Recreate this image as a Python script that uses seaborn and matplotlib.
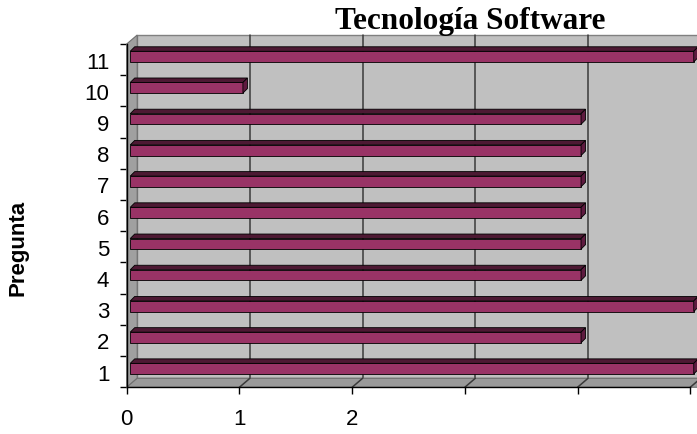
import numpy as np
import pandas as pd
import matplotlib
matplotlib.use("Agg")
import matplotlib.pyplot as plt
from matplotlib.patches import Polygon, Rectangle
import seaborn as sns

# ---- data ----
preguntas = ["1", "2", "3", "4", "5", "6", "7", "8", "9", "10", "11"]
valores = [5, 4, 5, 4, 4, 4, 4, 4, 4, 1, 5]
x_ticks = [0, 1, 2, 3, 4, 5]
x_ticklabels = ["0", "1", "2", "", "", ""]
titulo = "Tecnología Software"
eje_y = "Pregunta"

sns.set_theme(style="white")
plt.rcParams["font.family"] = ["Liberation Sans", "DejaVu Sans"]
plt.rcParams["text.color"] = "black"
plt.rcParams["xtick.color"] = "black"
plt.rcParams["ytick.color"] = "black"
plt.rcParams["axes.labelcolor"] = "black"

DPI = 100
fig = plt.figure(figsize=(6.97, 4.35), dpi=DPI)
ax = fig.add_axes([0.1818, 0.1074, 0.8085, 0.7892])
ax.patch.set_visible(False)

df = pd.DataFrame({"Pregunta": preguntas, "Valor": valores})
orden = preguntas[::-1]
sns.barplot(data=df, x="Valor", y="Pregunta", order=orden, orient="h",
            width=0.34, color="#993366", saturation=1, edgecolor="black",
            linewidth=0.6, ax=ax, zorder=2)

xmax = 5
ax.set_xlim(0, xmax)
ax.set_ylim(len(preguntas) - 0.5, -0.5)

# pixel -> data conversion
ax_w_px = fig.get_figwidth() * DPI * 0.8085
ax_h_px = fig.get_figheight() * DPI * 0.7892
sx = xmax / ax_w_px
sy = len(preguntas) / ax_h_px


def d(px, py):
    return px * sx, -py * sy


ytop_ax, ybot_ax = -0.5, len(preguntas) - 0.5
bwx, bwy = d(10.5, 9.0)

# back wall
ax.add_patch(Rectangle((bwx, ytop_ax + bwy), xmax + 0.5, ybot_ax - ytop_ax,
                       facecolor="#c0c0c0", edgecolor="#808080", lw=1.0,
                       zorder=0.5, clip_on=False))
for k in x_ticks[1:]:
    ax.plot([k + bwx, k + bwx], [ytop_ax + bwy, ybot_ax + bwy],
            color="#3a3a3a", lw=1.1, zorder=0.6, clip_on=False)
# left wall
ax.add_patch(Polygon([(0, ytop_ax), (bwx, ytop_ax + bwy), (bwx, ybot_ax + bwy), (0, ybot_ax)],
                     closed=True, facecolor="#a0a0a0", edgecolor="#707070", lw=0.8,
                     zorder=0.7, clip_on=False))
# floor
ax.add_patch(Polygon([(0, ybot_ax), (xmax + 0.5, ybot_ax), (xmax + 0.5 + bwx, ybot_ax + bwy),
                      (bwx, ybot_ax + bwy)],
                     closed=True, facecolor="#9a9a9a", edgecolor="#707070", lw=0.8,
                     zorder=0.7, clip_on=False))
for k in x_ticks[1:]:
    ax.plot([k, k + bwx], [ybot_ax, ybot_ax + bwy], color="#3a3a3a", lw=1.1,
            zorder=0.8, clip_on=False)

# 3D bars
shx, shy = d(3.5, 3.0)
ddx, ddy = d(4.5, 4.5)
bars = [p for p in ax.patches if isinstance(p, Rectangle) and p.get_zorder() == 2]
for p in bars:
    p.set_clip_on(False)
    x0 = p.get_x() + shx
    y0 = p.get_y() + shy
    w = p.get_width()
    h = p.get_height()
    p.set_x(x0)
    p.set_y(y0)
    yt, yb = min(y0, y0 + h), max(y0, y0 + h)
    x1 = x0 + w
    ax.add_patch(Polygon([(x0, yt), (x1, yt), (x1 + ddx, yt + ddy), (x0 + ddx, yt + ddy)],
                         closed=True, facecolor="#4d1933", edgecolor="black", lw=0.6,
                         zorder=2.1, clip_on=False))
    ax.add_patch(Polygon([(x1, yt), (x1 + ddx, yt + ddy), (x1 + ddx, yb + ddy), (x1, yb)],
                         closed=True, facecolor="#5e1a3f", edgecolor="black", lw=0.6,
                         zorder=2.1, clip_on=False))

# spines
for s in ["top", "right"]:
    ax.spines[s].set_visible(False)
for s in ["left", "bottom"]:
    ax.spines[s].set_color("black")
    ax.spines[s].set_linewidth(1.0)
    ax.spines[s].set_zorder(3)

# ticks
ax.set_yticks(range(len(orden)))
ax.set_yticklabels(orden, fontsize=16)
ax.set_yticks(np.arange(-0.5, len(orden), 1), minor=True)
ax.tick_params(axis="y", which="major", length=0, pad=12.5, labelcolor="black")
ax.tick_params(axis="y", which="minor", length=4.8, width=1.0, color="black", left=True)
ax.set_xticks(x_ticks)
ax.set_xticklabels(x_ticklabels, fontsize=16)
ax.tick_params(axis="x", which="major", length=5, width=1.0, color="black",
               bottom=True, pad=10, labelcolor="black")
ax.set_xlabel("")
ax.set_ylabel("")

fig.text(0.0254, 0.4306, eje_y, rotation=90, ha="center", va="center",
         fontsize=16, fontweight="bold", color="black")
fig.text(0.6743, 1 - 29 / 435, titulo, ha="center", va="baseline", color="black",
         fontsize=22.5, fontweight="bold", family=["Liberation Serif", "DejaVu Serif"])

fig.savefig("out.png", dpi=DPI)
